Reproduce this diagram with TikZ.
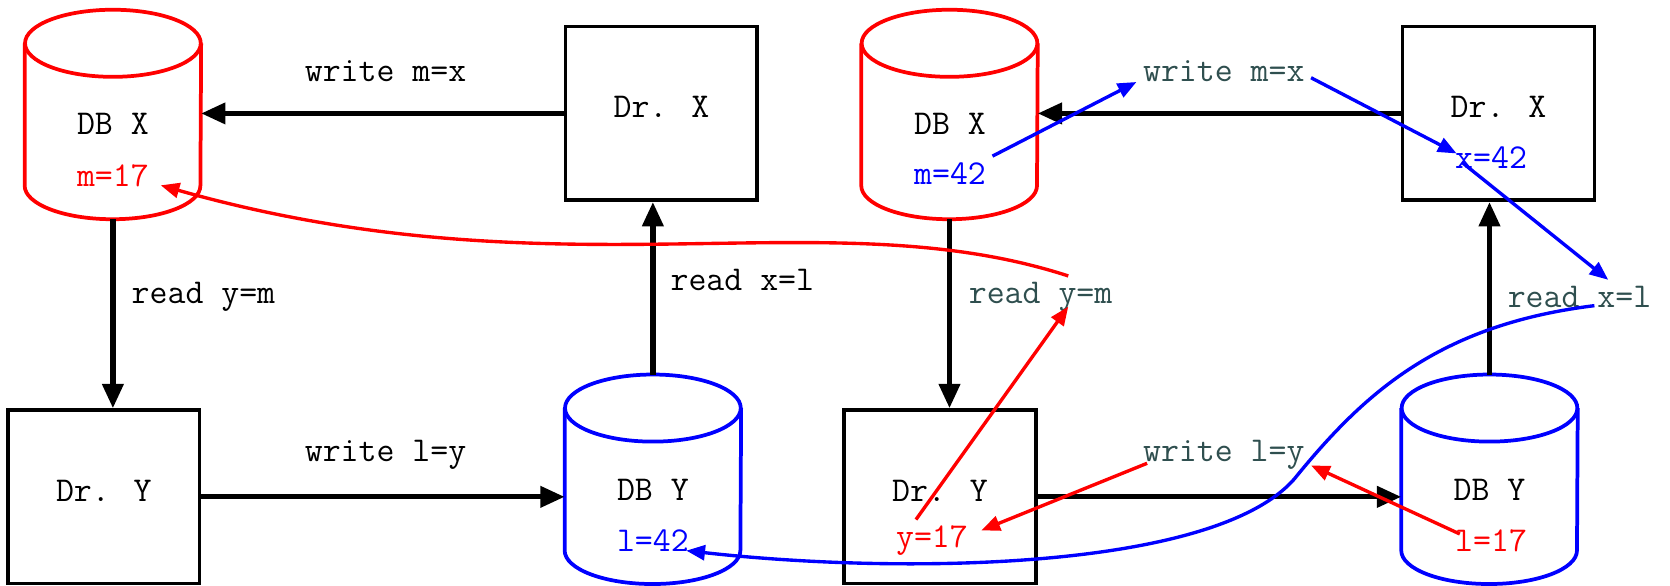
\documentclass[tikz,border=0pt]{standalone}
\usepackage{tikz}
\usepackage{xcolor}
\usetikzlibrary{arrows.meta}
\definecolor{valred}{RGB}{255,0,0}
\definecolor{valblue}{RGB}{0,0,255}
\definecolor{opgray}{RGB}{47,79,79}

\begin{document}
\begin{tikzpicture}[font=\ttfamily\fontsize{18.6}{22}\selectfont,
    drbox/.style={draw, line width=1.9pt, minimum width=3.6cm, minimum height=3.26cm, text depth=0.24cm},
    dbnode/.style={minimum width=3.3cm, minimum height=3.92cm, inner sep=0pt},
    flow/.style={-{Triangle[length=13pt,width=11pt]}, line width=2.8pt},
    trace/.style={-{Triangle[length=10pt,width=8pt]}, line width=1.8pt},
    oplabel/.style={text=opgray}]
    \useasboundingbox (0,0) rectangle (31.36,11);

    \node[dbnode] (dbxA) at (2.12,8.85) {};
    \node[dbnode] (dbxB) at (17.83,8.85) {};
    \node[dbnode] (dbyA) at (12.26,2.0) {};
    \node[dbnode] (dbyB) at (27.97,2.0) {};
    \foreach \n/\c in {dbxA/valred,dbxB/valred,dbyA/valblue,dbyB/valblue} {
        \draw[\c, line width=2pt] ([yshift=-0.63cm]\n.north west) -- ([yshift=0.63cm]\n.south west)
            arc[start angle=180, end angle=360, x radius=1.65cm, y radius=0.63cm] -- ([yshift=-0.63cm]\n.north east);
        \draw[\c, line width=2pt] ([yshift=-0.63cm]\n.north) ellipse[x radius=1.65cm, y radius=0.63cm];
    }
    \node (nxA) at (2.12,8.68) {DB X};
    \node (nxB) at (17.84,8.68) {DB X};
    \node (nyA) at (12.26,1.8) {DB Y};
    \node (nyB) at (27.97,1.8) {DB Y};

    \node[drbox] (drxA) at (12.42,8.87) {Dr. X};
    \node[drbox] (drxB) at (28.14,8.87) {Dr. X};
    \node[drbox] (dryA) at (1.95,1.67) {Dr. Y};
    \node[drbox] (dryB) at (17.65,1.67) {Dr. Y};

    \foreach \s in {A,B} {
        \draw[flow] (drx\s.west) -- (drx\s.west -| dbx\s.east);
        \draw[flow] (dbx\s.south) -- (dbx\s.south |- dry\s.north);
        \draw[flow] (dry\s.east) -- (dry\s.east -| dby\s.west);
        \draw[flow] (dby\s.north) -- (dby\s.north |- drx\s.south);
    }

    \node (wmxA) at (7.24,9.66) {write m=x};
    \node (ryA) at (3.82,5.42) {read y=m};
    \node (rxlA) at (13.94,5.74) {read x=l};
    \node (wlyA) at (7.24,2.46) {write l=y};
    \node[oplabel] (wmxB) at (22.98,9.66) {write m=x};
    \node[oplabel] (ryB) at (19.54,5.42) {read y=m};
    \node[oplabel] (rxlB) at (29.66,5.42) {read x=l};
    \node[oplabel] (wlyB) at (22.98,2.46) {write l=y};

    \node[text=valred] (m17) at (2.12,7.7) {m=17};
    \node[text=valblue] (l42) at (12.26,0.84) {l=42};
    \node[text=valblue] (m42) at (17.84,7.74) {m=42};
    \node[text=valblue] (x42) at (28.0,8.04) {x=42};
    \node[text=valred] (y17) at (17.5,0.84) {y=17};
    \node[text=valred] (l17) at (28.0,0.84) {l=17};

    \draw[trace, valred] ([xshift=0.52cm]ryB.north) .. controls (15.5,7.3) and (10.5,5.4) .. ([shift={(0.1,-0.18)}]m17.east);
    \draw[trace, valblue] (m42.north east) -- ([yshift=-0.2cm]wmxB.west);
    \draw[trace, valblue] ([yshift=-0.12cm]wmxB.east) -- ([shift={(0.15,-0.25)}]x42.north west);
    \draw[trace, valblue] ([shift={(0.25,0.24)}]x42.south west) -- ([xshift=0.54cm]rxlB.north);
    \draw[trace, valblue] ([shift={(0.28,-0.16)}]rxlB.center) .. controls (27.0,4.9) and (25.6,3.6) .. (24.3,2.0)
        .. controls (22.8,0.3) and (17,0.2) .. ([shift={(-0.17,-0.18)}]l42.east);
    \draw[trace, valred] ([xshift=-0.3cm]y17.north) -- ([shift={(0.52,0.22)}]ryB.south);
    \draw[trace, valred] ([shift={(0.2,-0.16)}]wlyB.west) -- ([shift={(0.13,0.2)}]y17.east);
    \draw[trace, valred] ([shift={(0.21,-0.2)}]l17.north west) -- ([yshift=-0.2cm]wlyB.east);
\end{tikzpicture}
\end{document}
